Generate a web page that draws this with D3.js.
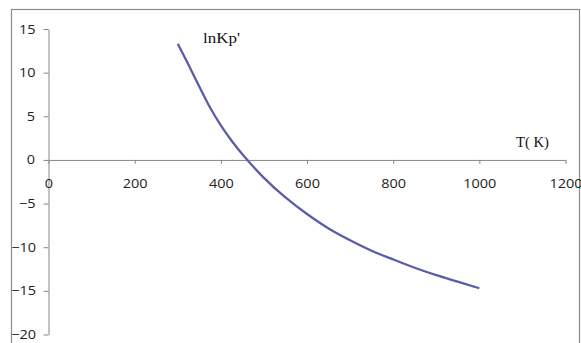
<!DOCTYPE html>
<html>
<head>
<meta charset="utf-8">
<script src="https://cdn.jsdelivr.net/npm/d3@7"></script>
<style>
  body { margin: 0; background: #fff; }
  .tick text { transform-box: fill-box; transform-origin: center; transform: scaleX(1.15); }
</style>
</head>
<body>
<div id="chart"></div>
<script>
// values
var temps = [300, 325, 350, 375, 400, 425, 450, 500, 550, 600, 650, 700, 750, 800, 850, 900, 950, 1000];
var lnKp  = [13.3, 10.9, 8.4, 6.0, 3.95, 2.2, 0.65, -2.05, -4.3, -6.2, -7.85, -9.2, -10.4, -11.4, -12.35, -13.2, -13.95, -14.7];
var xTicks = [0, 200, 400, 600, 800, 1000, 1200];
var yTicks = [-20, -15, -10, -5, 0, 5, 10, 15];

var width = 581, height = 343;

var svg = d3.select("#chart").append("svg")
    .attr("width", width)
    .attr("height", height);

// outer chart frame
svg.append("rect")
    .attr("x", 11.5).attr("y", 9.5)
    .attr("width", 568).attr("height", 345)
    .attr("fill", "none")
    .attr("stroke", "#8a8a8a")
    .attr("stroke-width", 1.2);

var x = d3.scaleLinear().domain([0, 1200]).range([48.5, 565.5]);
var y = d3.scaleLinear().domain([-20, 15]).range([334.5, 29]);

var yAxis = svg.append("g")
    .attr("transform", "translate(" + x(0) + ",0)")
    .call(d3.axisLeft(y).tickValues(yTicks).tickSize(5).tickSizeOuter(0).tickPadding(9)
      .tickFormat(d3.format("d")));

var xAxis = svg.append("g")
    .attr("transform", "translate(0," + y(0) + ")")
    .call(d3.axisBottom(x).tickValues(xTicks).tickSize(4).tickSizeOuter(0).tickPadding(15)
      .tickFormat(d3.format("d")));

[xAxis, yAxis].forEach(function(g){
  g.select(".domain").attr("stroke", "#868686");
  g.selectAll(".tick line").attr("stroke", "#868686");
  g.selectAll(".tick text")
    .attr("fill", "#222")
    .style("font-family", "'Open Sans', sans-serif")
    .style("font-size", "12.6px");
});

// the curve
var pts = temps.map(function(t, i){ return [t, lnKp[i]]; });
var line = d3.line()
    .x(function(d){ return x(d[0]); })
    .y(function(d){ return y(d[1]); })
    .curve(d3.curveCatmullRom.alpha(0.5));

svg.append("path")
    .datum(pts)
    .attr("d", line)
    .attr("fill", "none")
    .attr("stroke", "#5a5ea8")
    .attr("stroke-width", 2.3);

// axis titles
svg.append("text")
    .attr("x", 203).attr("y", 42.7)
    .attr("textLength", 37).attr("lengthAdjust", "spacingAndGlyphs")
    .style("font-family", "'Liberation Serif', serif")
    .style("font-size", "14px")
    .attr("fill", "#111")
    .text("lnKp'");

svg.append("text")
    .attr("x", 516).attr("y", 146.7)
    .attr("textLength", 33).attr("lengthAdjust", "spacingAndGlyphs")
    .style("font-family", "'Liberation Serif', serif")
    .style("font-size", "14px")
    .attr("fill", "#111")
    .text("T( K)");
</script>
</body>
</html>
